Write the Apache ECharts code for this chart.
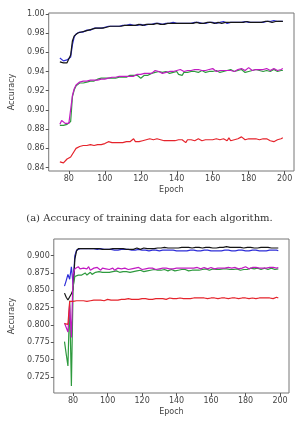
<!DOCTYPE html>
<html>
<head>
<meta charset="utf-8">
<script src="https://cdn.jsdelivr.net/npm/echarts@6/dist/echarts.min.js"></script>
<style>
  html, body { margin: 0; padding: 0; background: #fff; }
  #chart { width: 299px; height: 433px; }
</style>
</head>
<body>
<div id="chart"></div>
<script>
// epochs 75..199
const firstEpoch = 75
const lastEpoch = 199
const xTicks = [80, 100, 120, 140, 160, 180, 200]
const yTicksTop = [0.84, 0.86, 0.88, 0.90, 0.92, 0.94, 0.96, 0.98, 1.00]
const yTicksBottom = [0.725, 0.75, 0.775, 0.8, 0.825, 0.85, 0.875, 0.9]
const caption = '(a) Accuracy of training data for each algorithm.'

// (a) training accuracy
const trainBlack = [
  0.950,0.949,0.949,0.948,0.949,0.950,0.957,0.972,0.977,0.979,
  0.980,0.980,0.981,0.982,0.982,0.983,0.983,0.984,0.984,0.984,
  0.985,0.985,0.985,0.986,0.985,0.986,0.986,0.986,0.987,0.986,
  0.987,0.987,0.987,0.988,0.987,0.988,0.988,0.987,0.988,0.988,
  0.988,0.989,0.988,0.988,0.989,0.989,0.988,0.989,0.989,0.989,
  0.989,0.988,0.989,0.989,0.990,0.989,0.989,0.990,0.989,0.990,
  0.990,0.989,0.990,0.990,0.990,0.989,0.990,0.990,0.990,0.991,
  0.990,0.990,0.990,0.991,0.990,0.990,0.991,0.990,0.990,0.991,
  0.990,0.991,0.991,0.990,0.991,0.991,0.990,0.991,0.991,0.991,
  0.990,0.991,0.991,0.991,0.991,0.990,0.991,0.991,0.991,0.992,
  0.991,0.991,0.991,0.991,0.992,0.991,0.991,0.992,0.991,0.991,
  0.991,0.992,0.991,0.992,0.992,0.991,0.992,0.992,0.991,0.992,
  0.992,0.992,0.992,0.992,0.992
]
const trainBlue = [
  0.954,0.952,0.951,0.952,0.952,0.954,0.955,0.968,0.976,0.979,
  0.979,0.981,0.981,0.981,0.982,0.983,0.982,0.983,0.984,0.985,
  0.984,0.985,0.986,0.985,0.986,0.986,0.985,0.987,0.986,0.987,
  0.986,0.987,0.988,0.987,0.988,0.988,0.987,0.988,0.988,0.989,
  0.988,0.988,0.989,0.988,0.988,0.989,0.989,0.988,0.989,0.989,
  0.990,0.989,0.989,0.990,0.989,0.990,0.990,0.989,0.990,0.990,
  0.989,0.990,0.990,0.991,0.990,0.990,0.991,0.990,0.990,0.990,
  0.991,0.990,0.991,0.990,0.990,0.991,0.990,0.991,0.991,0.990,
  0.991,0.990,0.991,0.991,0.990,0.991,0.991,0.990,0.991,0.991,
  0.991,0.992,0.991,0.990,0.991,0.991,0.992,0.991,0.991,0.991,
  0.992,0.991,0.991,0.992,0.991,0.991,0.992,0.991,0.992,0.991,
  0.992,0.991,0.992,0.991,0.992,0.992,0.991,0.992,0.992,0.993,
  0.992,0.992,0.993,0.992,0.992
]
const trainMagenta = [
  0.885,0.889,0.889,0.886,0.886,0.886,0.887,0.915,0.922,0.926,
  0.928,0.929,0.928,0.930,0.929,0.930,0.929,0.931,0.930,0.931,
  0.932,0.931,0.933,0.932,0.933,0.932,0.933,0.933,0.932,0.934,
  0.933,0.934,0.933,0.935,0.934,0.935,0.934,0.935,0.936,0.935,
  0.936,0.935,0.936,0.937,0.936,0.937,0.936,0.938,0.937,0.938,
  0.939,0.938,0.940,0.941,0.943,0.940,0.939,0.938,0.940,0.939,
  0.941,0.940,0.942,0.940,0.939,0.941,0.940,0.942,0.941,0.940,
  0.942,0.941,0.943,0.941,0.940,0.942,0.941,0.942,0.940,0.941,
  0.942,0.941,0.940,0.942,0.941,0.943,0.941,0.940,0.942,0.941,
  0.940,0.941,0.942,0.941,0.943,0.941,0.942,0.940,0.941,0.942,
  0.941,0.943,0.942,0.941,0.942,0.944,0.942,0.941,0.943,0.942,
  0.941,0.942,0.943,0.942,0.941,0.943,0.942,0.941,0.942,0.943,
  0.942,0.941,0.943,0.942,0.943
]
const trainGreen = [
  0.884,0.885,0.884,0.884,0.885,0.886,0.888,0.914,0.921,0.925,
  0.927,0.928,0.929,0.928,0.930,0.929,0.930,0.930,0.931,0.930,
  0.931,0.932,0.931,0.933,0.932,0.933,0.932,0.933,0.934,0.933,
  0.934,0.933,0.934,0.934,0.935,0.934,0.935,0.934,0.935,0.936,
  0.935,0.936,0.935,0.936,0.935,0.933,0.935,0.936,0.937,0.936,
  0.937,0.938,0.937,0.939,0.938,0.940,0.938,0.939,0.938,0.940,
  0.939,0.938,0.940,0.939,0.938,0.940,0.937,0.939,0.936,0.939,
  0.940,0.939,0.941,0.940,0.939,0.940,0.941,0.939,0.940,0.941,
  0.940,0.939,0.941,0.940,0.939,0.940,0.939,0.941,0.940,0.939,
  0.941,0.940,0.939,0.941,0.940,0.942,0.941,0.940,0.939,0.941,
  0.940,0.942,0.941,0.939,0.941,0.940,0.942,0.941,0.940,0.942,
  0.940,0.941,0.942,0.940,0.939,0.941,0.942,0.940,0.941,0.942,
  0.941,0.940,0.942,0.941,0.941
]
const trainRed = [
  0.846,0.846,0.845,0.845,0.849,0.851,0.851,0.853,0.857,0.860,
  0.861,0.862,0.862,0.863,0.862,0.863,0.862,0.864,0.864,0.863,
  0.865,0.864,0.865,0.864,0.866,0.865,0.866,0.867,0.865,0.866,
  0.867,0.866,0.867,0.866,0.867,0.866,0.868,0.867,0.866,0.867,
  0.868,0.870,0.867,0.868,0.867,0.868,0.868,0.867,0.869,0.868,
  0.870,0.871,0.869,0.868,0.870,0.868,0.869,0.870,0.868,0.869,
  0.868,0.869,0.868,0.870,0.868,0.869,0.869,0.868,0.869,0.868,
  0.866,0.869,0.870,0.869,0.869,0.868,0.869,0.870,0.869,0.868,
  0.869,0.869,0.870,0.869,0.868,0.869,0.869,0.870,0.868,0.869,
  0.867,0.870,0.869,0.868,0.871,0.868,0.869,0.869,0.870,0.870,
  0.871,0.872,0.870,0.869,0.867,0.870,0.869,0.870,0.869,0.870,
  0.870,0.869,0.870,0.870,0.869,0.870,0.870,0.868,0.869,0.867,
  0.868,0.869,0.869,0.870,0.871
]

// (b) test accuracy
const testBlack = [
  0.846,0.840,0.836,0.837,0.845,0.851,0.895,0.907,0.910,0.911,
  0.910,0.911,0.910,0.911,0.910,0.909,0.910,0.909,0.910,0.909,
  0.910,0.909,0.909,0.910,0.909,0.910,0.909,0.909,0.910,0.909,
  0.910,0.909,0.910,0.909,0.910,0.910,0.909,0.910,0.909,0.910,
  0.909,0.910,0.911,0.910,0.909,0.910,0.911,0.910,0.910,0.911,
  0.910,0.911,0.910,0.911,0.911,0.910,0.911,0.911,0.912,0.911,
  0.911,0.912,0.911,0.912,0.911,0.912,0.911,0.912,0.912,0.911,
  0.912,0.911,0.912,0.912,0.911,0.912,0.912,0.911,0.912,0.912,
  0.911,0.912,0.912,0.911,0.912,0.912,0.911,0.912,0.911,0.912,
  0.912,0.911,0.912,0.912,0.913,0.912,0.912,0.911,0.912,0.912,
  0.912,0.911,0.912,0.912,0.911,0.912,0.912,0.911,0.912,0.912,
  0.911,0.912,0.911,0.912,0.912,0.911,0.912,0.911,0.912,0.912,
  0.911,0.912,0.911,0.912,0.911
]
const testBlue = [
  0.856,0.864,0.873,0.866,0.884,0.858,0.900,0.908,0.909,0.910,
  0.909,0.910,0.909,0.910,0.909,0.910,0.909,0.910,0.910,0.909,
  0.909,0.910,0.909,0.909,0.910,0.909,0.908,0.909,0.909,0.908,
  0.909,0.908,0.909,0.909,0.908,0.909,0.908,0.909,0.908,0.908,
  0.909,0.908,0.908,0.909,0.908,0.908,0.909,0.908,0.908,0.907,
  0.908,0.908,0.907,0.908,0.908,0.907,0.908,0.908,0.907,0.908,
  0.907,0.908,0.907,0.908,0.908,0.907,0.908,0.907,0.908,0.907,
  0.908,0.907,0.907,0.908,0.907,0.908,0.907,0.907,0.908,0.907,
  0.907,0.908,0.907,0.908,0.907,0.907,0.908,0.907,0.908,0.907,
  0.908,0.907,0.907,0.908,0.907,0.908,0.907,0.907,0.908,0.907,
  0.907,0.908,0.907,0.908,0.907,0.907,0.908,0.907,0.907,0.908,
  0.907,0.908,0.907,0.907,0.908,0.907,0.908,0.907,0.907,0.908,
  0.907,0.908,0.907,0.908,0.907
]
const testMagenta = [
  0.803,0.803,0.790,0.830,0.782,0.873,0.881,0.880,0.884,0.881,
  0.879,0.882,0.880,0.881,0.884,0.879,0.881,0.882,0.880,0.883,
  0.881,0.879,0.882,0.880,0.881,0.883,0.880,0.881,0.882,0.879,
  0.881,0.882,0.880,0.881,0.879,0.882,0.881,0.880,0.882,0.881,
  0.880,0.882,0.881,0.883,0.881,0.880,0.882,0.881,0.883,0.882,
  0.881,0.882,0.881,0.880,0.882,0.881,0.883,0.882,0.881,0.882,
  0.883,0.881,0.882,0.881,0.883,0.882,0.881,0.882,0.883,0.882,
  0.881,0.882,0.883,0.882,0.884,0.882,0.881,0.883,0.882,0.881,
  0.882,0.883,0.882,0.881,0.882,0.883,0.882,0.881,0.883,0.882,
  0.881,0.882,0.883,0.882,0.881,0.883,0.882,0.882,0.881,0.883,
  0.882,0.881,0.883,0.882,0.883,0.884,0.882,0.881,0.882,0.883,
  0.882,0.883,0.884,0.882,0.883,0.882,0.883,0.882,0.883,0.883,
  0.882,0.883,0.883,0.882,0.883
]
const testGreen = [
  0.776,0.758,0.741,0.835,0.712,0.855,0.870,0.871,0.872,0.874,
  0.872,0.873,0.875,0.872,0.874,0.876,0.873,0.875,0.876,0.874,
  0.877,0.875,0.876,0.878,0.876,0.877,0.876,0.878,0.877,0.876,
  0.878,0.877,0.876,0.878,0.877,0.879,0.877,0.878,0.876,0.878,
  0.877,0.879,0.878,0.877,0.879,0.878,0.877,0.879,0.878,0.877,
  0.879,0.878,0.880,0.878,0.879,0.877,0.879,0.878,0.880,0.879,
  0.878,0.879,0.880,0.879,0.878,0.880,0.879,0.878,0.880,0.879,
  0.880,0.879,0.878,0.880,0.879,0.881,0.879,0.880,0.879,0.878,
  0.880,0.879,0.881,0.880,0.879,0.880,0.881,0.879,0.880,0.881,
  0.880,0.879,0.881,0.880,0.881,0.879,0.880,0.881,0.880,0.879,
  0.881,0.880,0.879,0.881,0.880,0.881,0.880,0.881,0.882,0.880,
  0.881,0.880,0.882,0.881,0.880,0.881,0.882,0.881,0.880,0.881,
  0.882,0.881,0.880,0.881,0.881
]
const testRed = [
  0.802,0.803,0.801,0.834,0.833,0.834,0.834,0.835,0.834,0.835,
  0.834,0.835,0.835,0.834,0.836,0.835,0.835,0.836,0.835,0.836,
  0.835,0.836,0.836,0.835,0.836,0.837,0.836,0.836,0.837,0.836,
  0.837,0.836,0.837,0.837,0.836,0.837,0.837,0.838,0.837,0.837,
  0.838,0.837,0.838,0.837,0.838,0.838,0.837,0.838,0.838,0.837,
  0.838,0.837,0.838,0.838,0.837,0.838,0.839,0.838,0.838,0.837,
  0.838,0.839,0.838,0.838,0.839,0.838,0.838,0.839,0.838,0.838,
  0.839,0.838,0.839,0.838,0.838,0.839,0.840,0.839,0.838,0.839,
  0.838,0.839,0.839,0.838,0.839,0.839,0.838,0.839,0.839,0.838,
  0.839,0.839,0.838,0.839,0.839,0.838,0.839,0.839,0.838,0.839,
  0.839,0.838,0.839,0.839,0.838,0.839,0.839,0.838,0.839,0.839,
  0.839,0.838,0.839,0.839,0.838,0.839,0.839,0.839,0.838,0.839,
  0.839,0.838,0.840,0.840,0.839
]

// 颜色（matplotlib b/k/g/m/r）
const colors = { blue: '#2f2fd8', black: '#151515', green: '#2e9a3e', magenta: '#c21ac2', red: '#e5232b' }

const epochs = []
for (let e = firstEpoch; e <= lastEpoch; e++) epochs.push(e)

function pairs(vals) {
  return vals.map((v, i) => [epochs[i], v])
}

const tickFont = { fontFamily: 'DejaVu Sans', fontSize: 8, color: '#444' }

function xAxisOpt(gridIndex) {
  return {
    type: 'value', gridIndex: gridIndex, min: 68.8, max: 205.2,
    name: 'Epoch', nameLocation: 'middle', nameGap: 15,
    nameTextStyle: tickFont,
    axisLine: { show: false },
    axisTick: { show: true, length: 3, lineStyle: { color: '#555' }, customValues: xTicks },
    axisLabel: Object.assign({ margin: 4, customValues: xTicks }, tickFont),
    splitLine: { show: false }
  }
}

function yAxisOpt(gridIndex, min, max, ticks, digits, gap) {
  return {
    type: 'value', gridIndex: gridIndex, min: min, max: max,
    name: 'Accuracy', nameLocation: 'middle', nameGap: gap, nameRotate: 90,
    nameTextStyle: tickFont,
    axisLine: { show: false },
    axisTick: { show: true, length: 3, lineStyle: { color: '#555' }, customValues: ticks },
    axisLabel: Object.assign({ margin: 4, customValues: ticks, formatter: v => v.toFixed(digits) }, tickFont),
    splitLine: { show: false }
  }
}

function lineSeries(idx, vals, color) {
  return {
    type: 'line', xAxisIndex: idx, yAxisIndex: idx, data: pairs(vals),
    showSymbol: false, symbol: 'none', animation: false,
    lineStyle: { color: color, width: 1.2 }
  }
}

const chart = echarts.init(document.getElementById('chart'))
chart.setOption({
  backgroundColor: '#fff',
  animation: false,
  grid: [
    { left: 37, top: 13, right: 5, height: 158, show: true, borderColor: '#777', borderWidth: 1 },
    { left: 43, top: 239, right: 10, height: 154, show: true, borderColor: '#777', borderWidth: 1 }
  ],
  xAxis: [xAxisOpt(0), xAxisOpt(1)],
  yAxis: [
    yAxisOpt(0, 0.8365, 1.0008, yTicksTop, 2, 30),
    yAxisOpt(1, 0.702, 0.924, yTicksBottom, 3, 35)
  ],
  series: [
    lineSeries(0, trainBlue, colors.blue),
    lineSeries(0, trainBlack, colors.black),
    lineSeries(0, trainGreen, colors.green),
    lineSeries(0, trainMagenta, colors.magenta),
    lineSeries(0, trainRed, colors.red),
    lineSeries(1, testBlue, colors.blue),
    lineSeries(1, testBlack, colors.black),
    lineSeries(1, testGreen, colors.green),
    lineSeries(1, testMagenta, colors.magenta),
    lineSeries(1, testRed, colors.red)
  ],
  graphic: [
    {
      type: 'text', left: 'center', top: 213,
      style: { text: caption, fontFamily: 'DejaVu Serif', fontSize: 10, fill: '#333' }
    }
  ]
})
</script>
</body>
</html>
